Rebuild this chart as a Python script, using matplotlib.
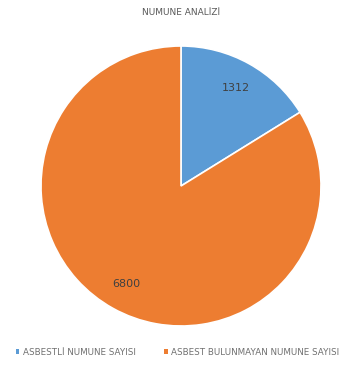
import matplotlib
matplotlib.use("Agg")
import matplotlib.pyplot as plt
from matplotlib.patches import Patch

labels = ["ASBESTLİ NUMUNE SAYISI", "ASBEST BULUNMAYAN NUMUNE SAYISI"]
values = [1312, 6800]
colors = ["#5B9BD5", "#ED7D31"]

fig = plt.figure(figsize=(3.48, 3.74), dpi=100)
ax = fig.add_axes([41 / 348, 48 / 374, 280 / 348, 280 / 374])

wedges, texts = ax.pie(values, colors=colors, startangle=90, counterclock=False,
                       wedgeprops=dict(edgecolor="white", linewidth=1.2),
                       labels=[str(v) for v in values], labeldistance=0.8,
                       textprops=dict(fontsize=8, color="#404040"))
for t in texts:
    t.set_horizontalalignment("center")
    t.set_verticalalignment("center")
ax.set_xlim(-1, 1)
ax.set_ylim(-1, 1)
ax.set_aspect("equal")

fig.text(0.52, 0.967, "NUMUNE ANALİZİ", ha="center", va="center", fontsize=6.5, color="#595959")

handles = [Patch(facecolor=c, edgecolor="none") for c in colors]
fig.legend(handles, labels, loc="center", bbox_to_anchor=(0.51, 0.058), ncol=2, frameon=False,
           fontsize=6.3, labelcolor="#707070", handlelength=0.45, handleheight=0.45,
           handletextpad=0.4, columnspacing=3.2)

fig.savefig("out.png", dpi=100, facecolor="white")
